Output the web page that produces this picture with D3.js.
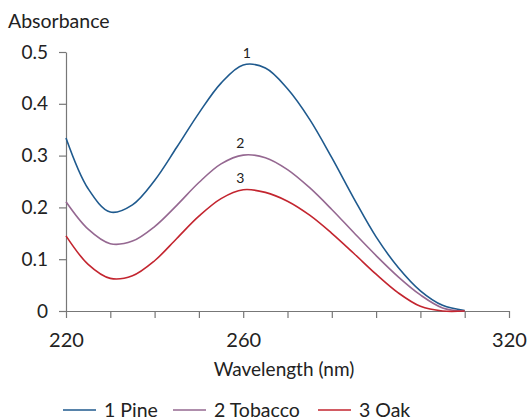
<!DOCTYPE html>
<html>
<head>
<meta charset="utf-8">
<script src="https://cdn.jsdelivr.net/npm/d3@7"></script>
<style>
  body { margin: 0; background: #fff; }
  text { font-family: Lato, "Open Sans", sans-serif; fill: #222; }
</style>
</head>
<body>
<div id="chart"></div>
<script>
const wavelengths = [220, 225, 230, 235, 240, 245, 250, 255, 260, 265, 270, 275, 280, 285, 290, 295, 300, 305, 310];
const pine    = [0.334, 0.236, 0.191, 0.205, 0.252, 0.316, 0.382, 0.440, 0.475, 0.469, 0.429, 0.370, 0.296, 0.217, 0.143, 0.084, 0.039, 0.011, 0.001];
const tobacco = [0.211, 0.158, 0.130, 0.135, 0.163, 0.204, 0.248, 0.284, 0.301, 0.296, 0.273, 0.238, 0.196, 0.151, 0.107, 0.066, 0.031, 0.006, 0.000];
const oak     = [0.145, 0.090, 0.063, 0.068, 0.097, 0.140, 0.183, 0.217, 0.234, 0.229, 0.212, 0.185, 0.150, 0.111, 0.071, 0.035, 0.009, 0.000, 0.000];
const seriesNames = ['1 Pine', '2 Tobacco', '3 Oak'];
const curveLabels = ['1', '2', '3'];
const xTicks = [220, 230, 240, 250, 260, 270, 280, 290, 300, 310, 320];
const xTickLabels = [220, 260, 320];
const yTicks = [0, 0.1, 0.2, 0.3, 0.4, 0.5];

const width = 529;
const height = 419;
const colors = ['#1f5a8e', '#956891', '#c3252f'];

const series = [pine, tobacco, oak].map((vals, i) => ({
  name: seriesNames[i],
  label: curveLabels[i],
  color: colors[i],
  points: vals.map((v, j) => ({x: wavelengths[j], y: v}))
}));

const svg = d3.select('#chart')
  .append('svg')
  .attr('width', width)
  .attr('height', height);

const x = d3.scaleLinear()
  .domain([220, 320])
  .range([66, 509]);

const y = d3.scaleLinear()
  .domain([0, 0.5])
  .range([311, 52]);

// axes
const xAxis = g => g
  .attr('transform', `translate(0, ${y(0)})`)
  .call(d3.axisBottom(x).tickValues(xTicks).tickSize(7).tickSizeOuter(0)
    .tickFormat(d => xTickLabels.includes(d) ? d : ''))
  .call(g => g.selectAll('line, path').attr('stroke', '#777').attr('stroke-width', 1.2))
  .call(g => g.selectAll('text').attr('font-size', 20).attr('dy', '1.3em').attr('fill', '#222'));

const yAxis = g => g
  .attr('transform', `translate(${x(220)}, 0)`)
  .call(d3.axisLeft(y).tickValues(yTicks).tickSize(7).tickSizeOuter(0)
    .tickFormat(d => d === 0 ? '0' : d3.format('.1f')(d)))
  .call(g => g.selectAll('line, path').attr('stroke', '#777').attr('stroke-width', 1.2))
  .call(g => g.selectAll('text').attr('font-size', 19).attr('x', -18).attr('fill', '#222'));

svg.append('g').call(xAxis);
svg.append('g').call(yAxis);

const line = d3.line()
  .x(d => x(d.x))
  .y(d => y(d.y))
  .curve(d3.curveCatmullRom.alpha(0.5));

svg.append('g')
  .selectAll('path')
  .data(series)
  .join('path')
    .attr('fill', 'none')
    .attr('stroke', d => d.color)
    .attr('stroke-width', 1.6)
    .attr('d', d => line(d.points));

// curve numbers above peaks
const peakLabelX = [261.5, 260, 260];
svg.append('g')
  .selectAll('text')
  .data(series)
  .join('text')
    .attr('x', (d, i) => x(peakLabelX[i]) - 3)
    .attr('y', d => y(d3.max(d.points, p => p.y)) - 7)
    .attr('text-anchor', 'middle')
    .attr('font-size', 14)
    .text(d => d.label);

// titles
svg.append('text')
  .attr('x', 8)
  .attr('y', 28)
  .attr('font-size', 19.5)
  .text('Absorbance');

svg.append('text')
  .attr('x', 284)
  .attr('y', 376)
  .attr('text-anchor', 'middle')
  .attr('font-size', 19)
  .text('Wavelength (nm)');

// legend
const legendX = [63, 173, 318];
const legend = svg.append('g')
  .selectAll('g')
  .data(series)
  .join('g')
    .attr('transform', (d, i) => `translate(${legendX[i]}, 410)`);

legend.append('line')
  .attr('x1', 0).attr('x2', 33)
  .attr('stroke', d => d.color)
  .attr('stroke-width', 1.6);

legend.append('text')
  .attr('x', 41)
  .attr('y', 6.5)
  .attr('font-size', 19.5)
  .text(d => d.name);
</script>
</body>
</html>
